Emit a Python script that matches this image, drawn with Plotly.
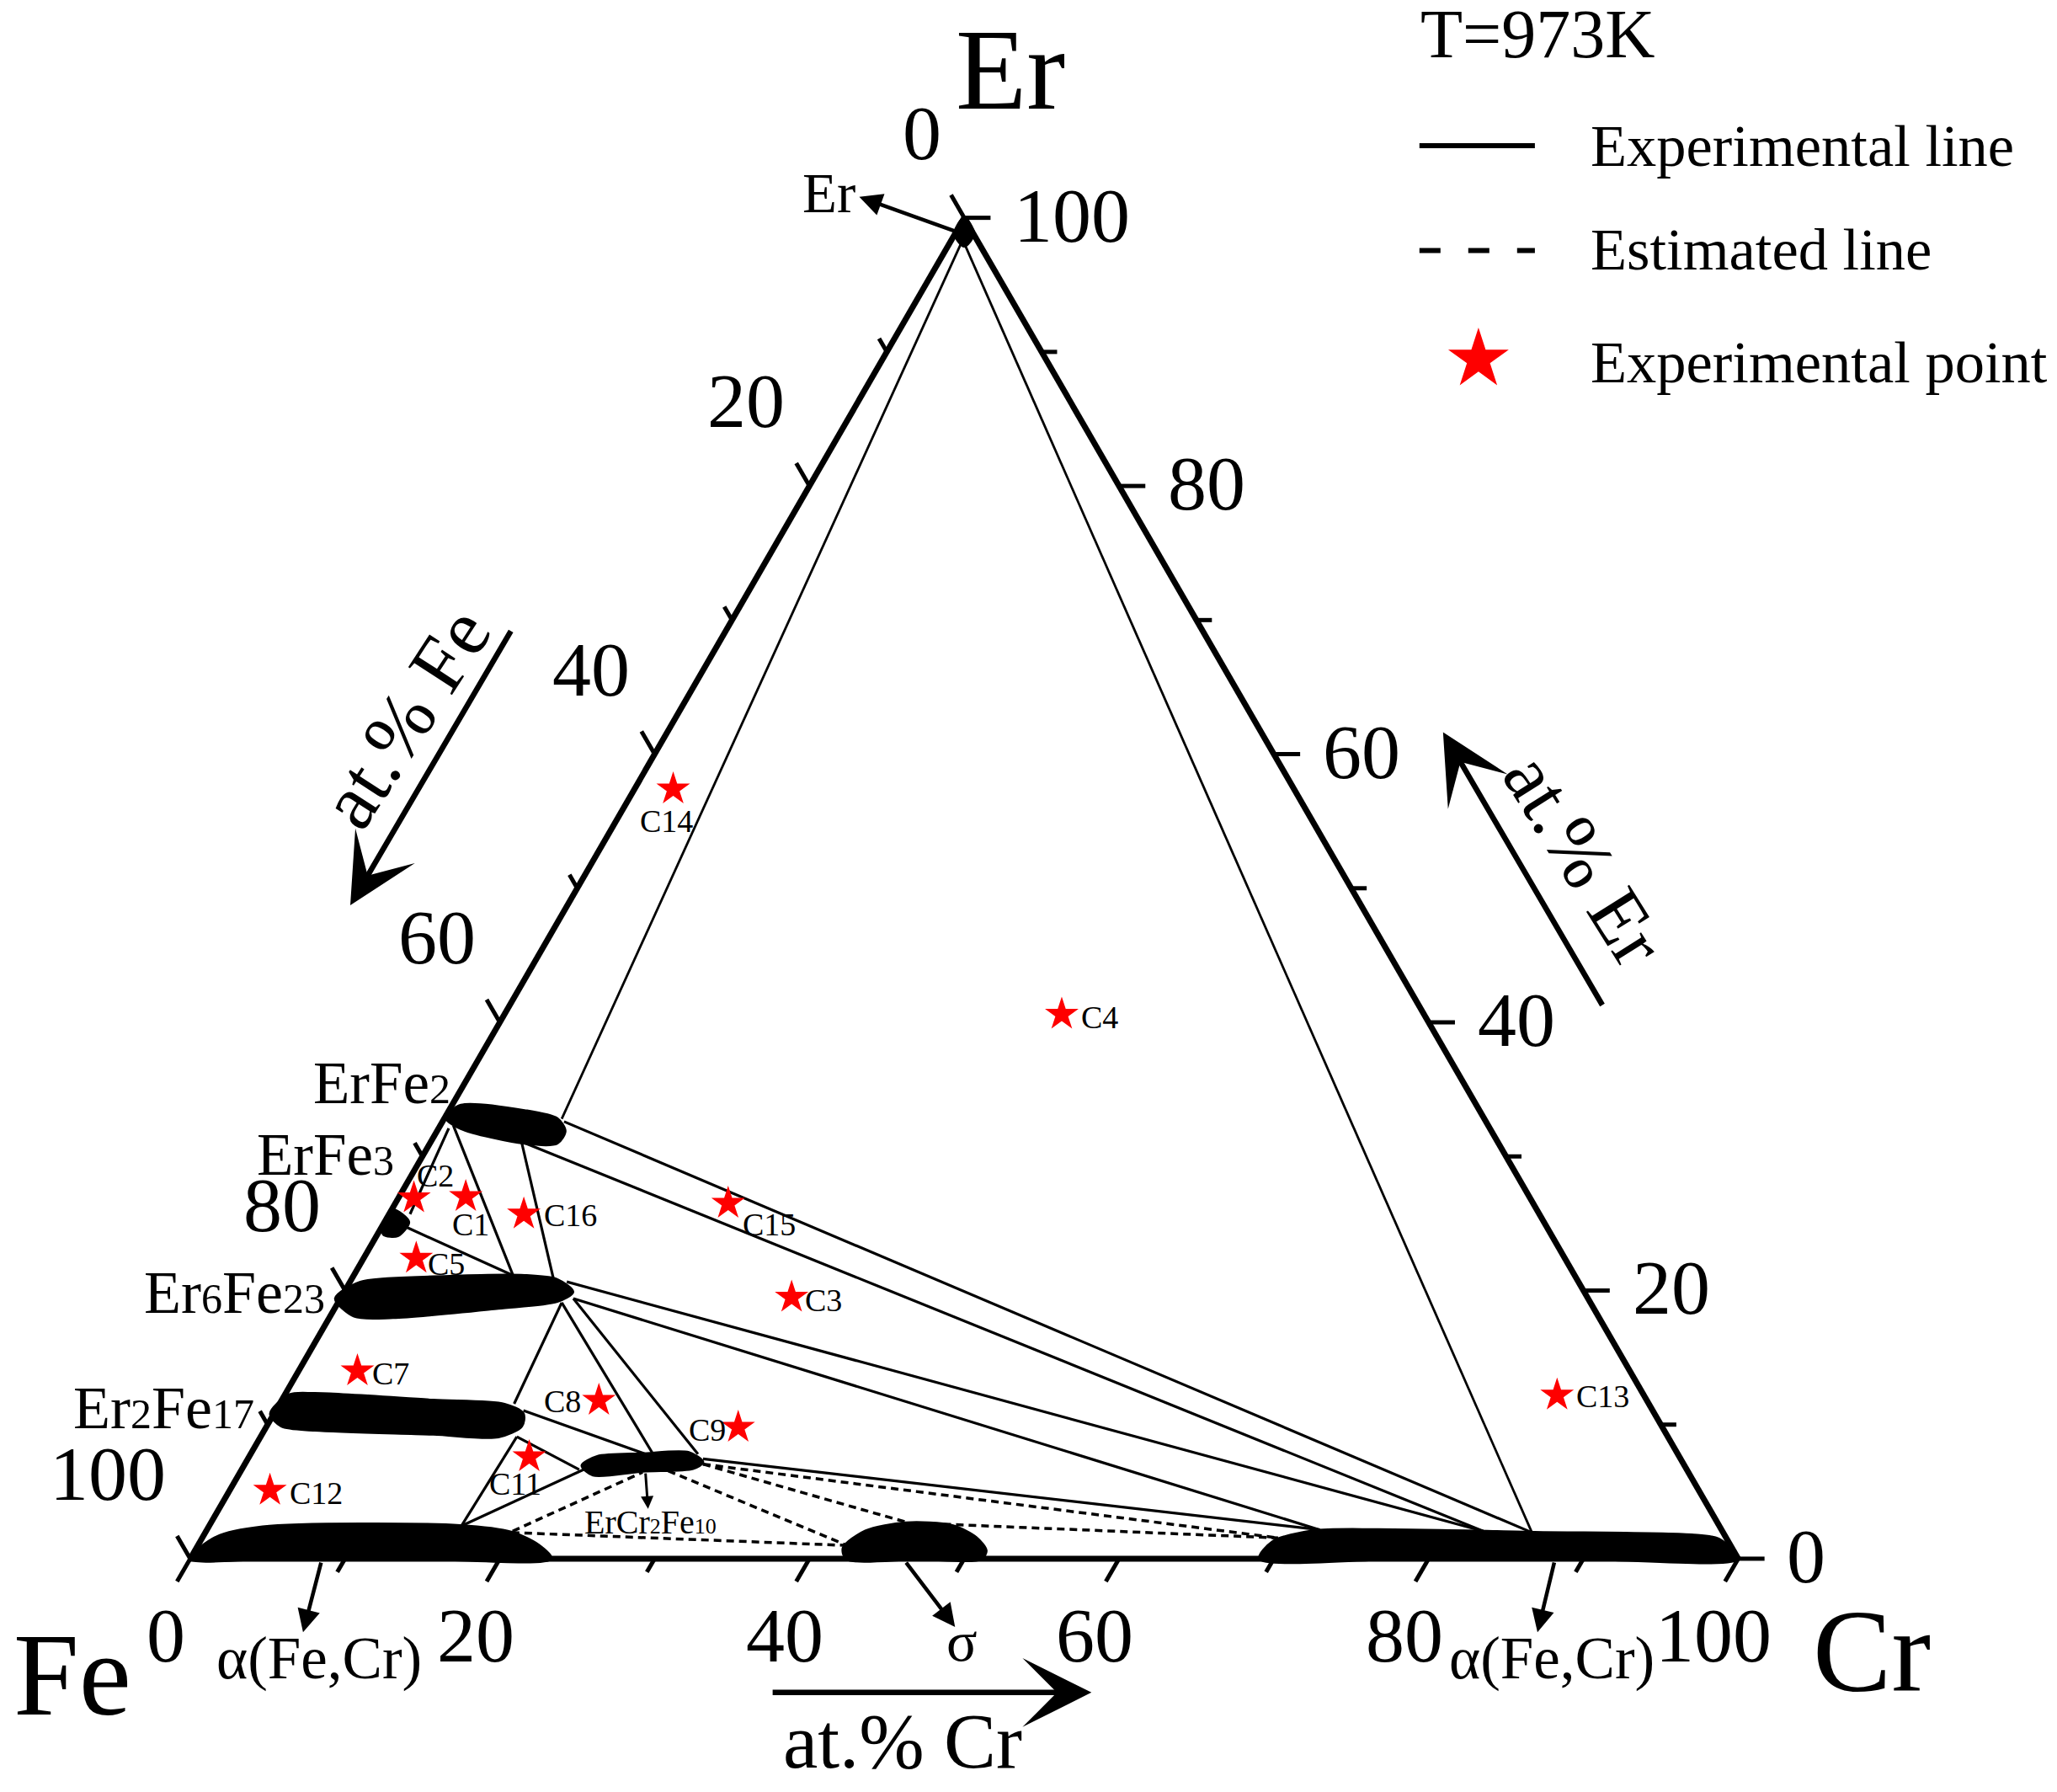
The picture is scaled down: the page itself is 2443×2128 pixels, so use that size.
import plotly.graph_objects as go

# positions of labels were measured on a view of the picture 1568 px wide
SCALE = 2443 / 1568
FE_X, BASE_Y, UNIT_X, UNIT_Y = 145, 1188, 11.8, 10.22

TICK_MAJOR = [0, 20, 40, 60, 80, 100]
TICK_MINOR = [10, 30, 50, 70, 90]

STAR_NAMES = ["C1", "C2", "C3", "C4", "C5", "C7", "C8", "C9", "C11", "C12", "C13", "C14", "C15", "C16"]
STAR_ER = [27.0, 26.9, 19.5, 40.6, 22.4, 14.0, 11.8, 9.8, 7.6, 5.1, 12.2, 57.4, 26.5, 25.7]
STAR_CR = [4.3, 1.0, 29.1, 36.0, 3.4, 3.8, 20.5, 30.5, 18.1, 2.6, 82.2, 2.5, 21.5, 8.7]

# single phase regions, (er, cr) outline
ERFE2_ER = [32.9, 33.8, 33.4, 32.8, 31.9, 31.0, 31.0, 32.1]
ERFE2_CR = [0.1, 0.6, 4.9, 7.3, 8.25, 8.2, 6.1, 1.45]
ER6FE23_ER = [19.4, 20.6, 21.0, 21.1, 20.8, 19.9, 19.2, 18.7, 18.0, 18.1]
ER6FE23_CR = [-0.3, 0.7, 5.2, 11.05, 13.3, 14.75, 14.1, 10.55, 4.1, 1.55]
ER2FE17_ER = [10.8, 12.2, 12.3, 11.8, 11.5, 10.8, 9.9, 9.1, 9.3, 9.6, 9.9]
ER2FE17_CR = [-0.2, 0.3, 1.9, 9.8, 14.55, 16.1, 16.45, 15.35, 11.05, 3.25, 0.95]
ERFE3_ER = [25.0, 26.0, 25.1, 24.1, 24.2]
ERFE3_CR = [0.0, 0.1, 1.55, 1.35, 0.4]
TAU_ER = [6.95, 7.6, 7.8, 7.9, 7.2, 6.75, 6.55, 6.25]
TAU_CR = [21.85, 22.5, 25.3, 28.25, 29.5, 29.1, 25.95, 22.9]
ALPHA_FE_ER = [0, 1.6, 2.35, 2.45, 1.95, 1.0, 0, 0, 0]
ALPHA_FE_CR = [0, 0.9, 3.5, 16.2, 19.8, 22.0, 23.3, 15, 5]
SIGMA_ER = [0.8, 2.05, 2.65, 2.45, 1.55, 0.6, 0, 0, 0]
SIGMA_CR = [41.8, 42.6, 44.9, 48.0, 50.0, 51.1, 51.1, 47, 42.4]
ALPHA_CR_ER = [0, 1.25, 2.05, 2.15, 1.95, 1.75, 1.45, 0, 0, 0]
ALPHA_CR_CR = [69.1, 69.3, 71.5, 75.6, 85.9, 96.1, 98.0, 100, 90, 78]
ER_END_ER = [100, 98.8, 97.9, 98.8]
ER_END_CR = [0, 1.2, 1.05, 0]

# tie lines: er0, cr0, er1, cr1
TIE_THIN = [
    (98.6, 0.7, 32.8, 7.6),
    (98.1, 0.95, 1.95, 85.7),
]
TIE_LINES = [
    (32.6, 7.85, 1.95, 85.7),
    (31.1, 5.85, 2.05, 82.5),
    (20.65, 14.0, 2.05, 82.5),
    (19.4, 15.05, 2.15, 71.9),
    (7.45, 29.4, 2.15, 71.9),
    (32.1, 0.65, 25.7, 1.35),
    (32.3, 0.85, 21.0, 10.4),
    (31.1, 5.85, 20.7, 13.15),
    (24.85, 1.3, 21.1, 10.35),
    (19.1, 14.45, 11.55, 15.15),
    (19.1, 14.45, 7.8, 26.0),
    (19.4, 15.05, 7.8, 28.9),
    (11.05, 16.0, 7.6, 26.1),
    (9.1, 16.55, 6.65, 21.8),
    (9.1, 16.55, 2.45, 16.3),
    (2.45, 16.3, 6.65, 22.1),
]
TIE_DASHED = [
    (2.05, 19.8, 6.45, 26.0),
    (1.95, 19.8, 1.0, 41.7),
    (6.55, 27.6, 1.0, 41.9),
    (7.05, 29.6, 2.75, 44.8),
    (7.05, 29.6, 1.55, 69.5),
    (2.65, 45.7, 1.55, 69.5),
]


def tx(er, cr):
    return cr + er / 2


def page(x, y):
    return (x - FE_X) / UNIT_X, (BASE_Y - y) / UNIT_Y


fig = go.Figure()


def segment(er0, cr0, er1, cr1, width=3.2, dash=None):
    fig.add_trace(go.Scatter(
        x=[tx(er0, cr0), tx(er1, cr1)], y=[er0, er1], mode="lines",
        line=dict(color="black", width=width, dash=dash), hoverinfo="skip"))


def blob(er, cr):
    fig.add_trace(go.Scatter(
        x=[tx(e, c) for e, c in zip(er + er[:1], cr + cr[:1])], y=er + er[:1],
        mode="lines", fill="toself", fillcolor="black",
        line=dict(color="black", width=4, shape="spline", smoothing=0.8), hoverinfo="skip"))


def label(x, y, text, size, angle=0):
    px_, py_ = page(x, y)
    fig.add_annotation(x=px_, y=py_, yshift=3, text=text, showarrow=False, textangle=angle,
                       xanchor="center", yanchor="middle",
                       font=dict(family="Liberation Serif", size=size, color="black"))


def arrow(x0, y0, x1, y1, width, size, head=2):
    hx, hy = page(x1, y1)
    fig.add_annotation(x=hx, y=hy, text="", showarrow=True, arrowhead=head, arrowcolor="black",
                       arrowwidth=width, arrowsize=size, standoff=0,
                       ax=(x0 - x1) * SCALE, ay=(y0 - y1) * SCALE)


for t in TIE_THIN:
    segment(*t, width=2.8)
for t in TIE_LINES:
    segment(*t)
for t in TIE_DASHED:
    segment(*t, width=3.5, dash="9px,6px")

# triangle frame
segment(0, 0, 0, 100, width=7)
segment(0, 0, 100, 0, width=7)
segment(100, 0, 0, 100, width=7)

# ticks run along the grid directions of the other two components
for ticks, length in ((TICK_MAJOR, 1.7), (TICK_MINOR, 1.0)):
    for t in ticks:
        segment(0, t, -length, t, width=5)            # at.% Cr
        segment(100 - t, 0, 100 - t + length, -length, width=5)   # at.% Fe
        segment(t, 100 - t, t, 100 - t + length, width=5)         # at.% Er

for er, cr in ((ERFE2_ER, ERFE2_CR), (ER6FE23_ER, ER6FE23_CR), (ER2FE17_ER, ER2FE17_CR),
               (ERFE3_ER, ERFE3_CR), (TAU_ER, TAU_CR), (ALPHA_FE_ER, ALPHA_FE_CR),
               (SIGMA_ER, SIGMA_CR), (ALPHA_CR_ER, ALPHA_CR_CR), (ER_END_ER, ER_END_CR)):
    blob(er, cr)

fig.add_trace(go.Scatter(
    x=[tx(e, c) for e, c in zip(STAR_ER, STAR_CR)], y=STAR_ER, mode="markers",
    text=STAR_NAMES, hoverinfo="text",
    marker=dict(symbol="star", size=30, color="#fe0000", line=dict(width=0))))

# tick labels
for t in TICK_MAJOR:
    def shift(x, y, xs, ys, text=str(t)):
        fig.add_annotation(x=x, y=y, xshift=xs, yshift=ys, text=text, showarrow=False,
                           font=dict(family="Liberation Serif", size=92, color="black"))
    shift(tx(0, t), 0, -29, -91)
    shift(tx(100 - t, 0), 100 - t, -50 if t == 0 else -98 if t == 100 else -75, 101)
    shift(tx(t, 100 - t), t, 128 if t == 100 else 81 if t == 0 else 104, 3)

for x, y, text in ((359, 935, "C1"), (332, 898, "C2"), (628, 993, "C3"), (838, 777, "C4"),
                   (340, 965, "C5"), (298, 1049, "C7"), (429, 1070, "C8"), (539, 1092, "C9"),
                   (393, 1133, "C11"), (241, 1140, "C12"), (1222, 1066, "C13"), (508, 628, "C14"),
                   (586, 935, "C15"), (435, 928, "C16")):
    label(x, y, text, 38)

SUB = '<span style="font-size:%dpx">%s</span>'
label(291, 827, "ErFe" + SUB % (50, "2"), 71)
label(248, 882, "ErFe" + SUB % (50, "3"), 71)
label(179, 987, "Er" + SUB % (50, "6") + "Fe" + SUB % (50, "23"), 72)
label(125, 1075, "Er" + SUB % (50, "2") + "Fe" + SUB % (50, "17"), 72)
label(496, 1162, "ErCr" + SUB % (26, "2") + "Fe" + SUB % (26, "10"), 40)

label(770, 55, "Er", 138)
label(55, 1278, "Fe", 140)
label(1427, 1260, "Cr", 140)
label(632, 149, "Er", 67)
label(243, 1266, "α(Fe,Cr)", 71)
label(1183, 1266, "α(Fe,Cr)", 71)
label(733, 1253, "σ", 68)
label(688, 1329, "at.% Cr", 93)
label(309, 549, "at.% Fe", 94, -57)
label(1208, 657, "at.% Er", 92, 58)

arrow(730, 177, 655, 150, 4.5, 1.2)
arrow(245, 1190, 231, 1244, 4.5, 1.2)
arrow(690, 1190, 728, 1240, 4.5, 1.2)
arrow(1185, 1190, 1172, 1244, 4.5, 1.2)
arrow(492, 1122, 494, 1150, 3, 1)
arrow(588, 1290, 832, 1290, 6.5, 2.1, head=3)
arrow(390, 480, 267, 690, 6.5, 2.1, head=3)
arrow(1222, 767, 1100, 558, 6.5, 2.1, head=3)

# legend block drawn by hand, the marks are much larger than a plotly legend allows
label(1172, 28, "T=973K", 82)
for y, text in ((111, "Experimental line"), (190, "Estimated line"), (276, "Experimental point")):
    px_, py_ = page(1211, y)
    fig.add_annotation(x=px_, y=py_, text=text, showarrow=False, xanchor="left", yanchor="middle",
                       font=dict(family="Liberation Serif", size=70.5, color="black"))
for y, dash in ((111, None), (191, "25px,33px")):
    a, b = page(1082, y), page(1170, y)
    fig.add_trace(go.Scatter(x=[a[0], b[0]], y=[a[1], b[1]], mode="lines",
                             line=dict(color="black", width=6, dash=dash), hoverinfo="skip"))
s = page(1127, 274)
fig.add_trace(go.Scatter(x=[s[0]], y=[s[1]], mode="markers", hoverinfo="skip",
                         marker=dict(symbol="star", size=54, color="#fe0000", line=dict(width=0))))

x0, y1 = page(0, 0)
x1, y0 = page(1568, 2128 / SCALE)
fig.update_xaxes(range=[x0, x1], visible=False)
fig.update_yaxes(range=[y0, y1], visible=False)
fig.update_layout(width=2443, height=2128, margin=dict(l=0, r=0, t=0, b=0), showlegend=False,
                  plot_bgcolor="white", paper_bgcolor="white")
fig.write_html("out.html", config={"displayModeBar": False},
               post_script="document.body.style.margin='0'")
